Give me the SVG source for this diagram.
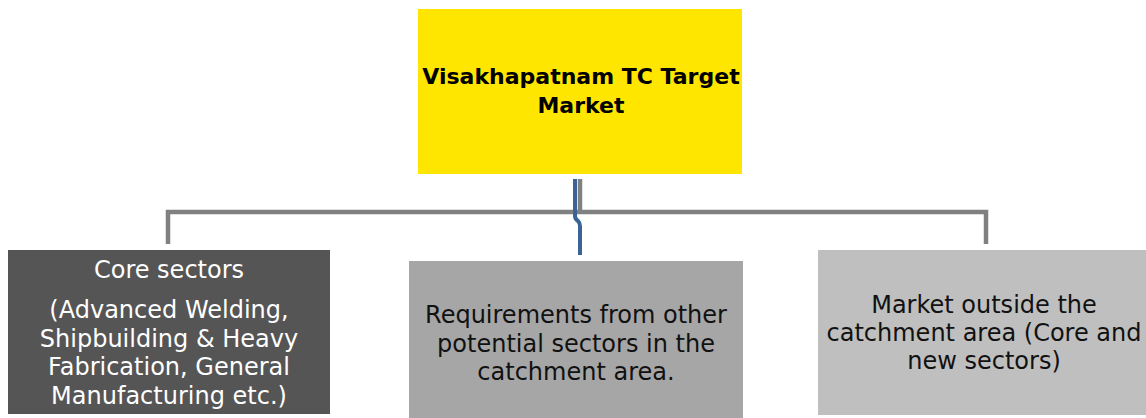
<svg xmlns="http://www.w3.org/2000/svg" width="1146" height="418" viewBox="0 0 1146 418">
  <style>
    .lbl { font-family: "DejaVu Sans", "Noto Sans", sans-serif; font-size: 24px; text-anchor: middle; }
    .title { font-weight: bold; font-size: 22px; fill: #000000; }
    .dark { fill: #111111; }
    .light { fill: #ffffff; }
    .conn { fill: none; stroke: #808080; stroke-width: 4.5; }
    .link { fill: none; stroke: #3b6496; stroke-width: 4; }
  </style>
  <rect width="1146" height="418" fill="#ffffff"/>

  <!-- connectors -->
  <g id="connectors">
    <path class="conn" d="M580 179 V212"/>
    <path class="conn" d="M168 244 V212 H986 V244"/>
    <path class="link" d="M575 179 V216 Q575 219 578 221 Q580 223 580 226 V255"/>
  </g>

  <g id="node-target">
    <rect x="418" y="9" width="324" height="165" fill="#ffe600"/>
    <text class="lbl title" x="581" y="84">Visakhapatnam TC Target</text>
    <text class="lbl title" x="581" y="113">Market</text>
  </g>

  <g id="node-core">
    <rect x="8" y="250" width="322" height="164" fill="#555555"/>
    <text class="lbl light" x="169" y="278">Core sectors</text>
    <text class="lbl light" x="169" y="318">(Advanced Welding,</text>
    <text class="lbl light" x="169" y="347">Shipbuilding &amp; Heavy</text>
    <text class="lbl light" x="169" y="375">Fabrication, General</text>
    <text class="lbl light" x="169" y="404">Manufacturing etc.)</text>
  </g>

  <g id="node-other">
    <rect x="409" y="261" width="334" height="157" fill="#a6a6a6"/>
    <text class="lbl dark" x="576" y="323">Requirements from other</text>
    <text class="lbl dark" x="576" y="352">potential sectors in the</text>
    <text class="lbl dark" x="576" y="380">catchment area.</text>
  </g>

  <g id="node-outside">
    <rect x="818" y="250" width="328" height="165" fill="#bfbfbf"/>
    <text class="lbl dark" x="984" y="313">Market outside the</text>
    <text class="lbl dark" x="984" y="341">catchment area (Core and</text>
    <text class="lbl dark" x="984" y="369">new sectors)</text>
  </g>
</svg>
